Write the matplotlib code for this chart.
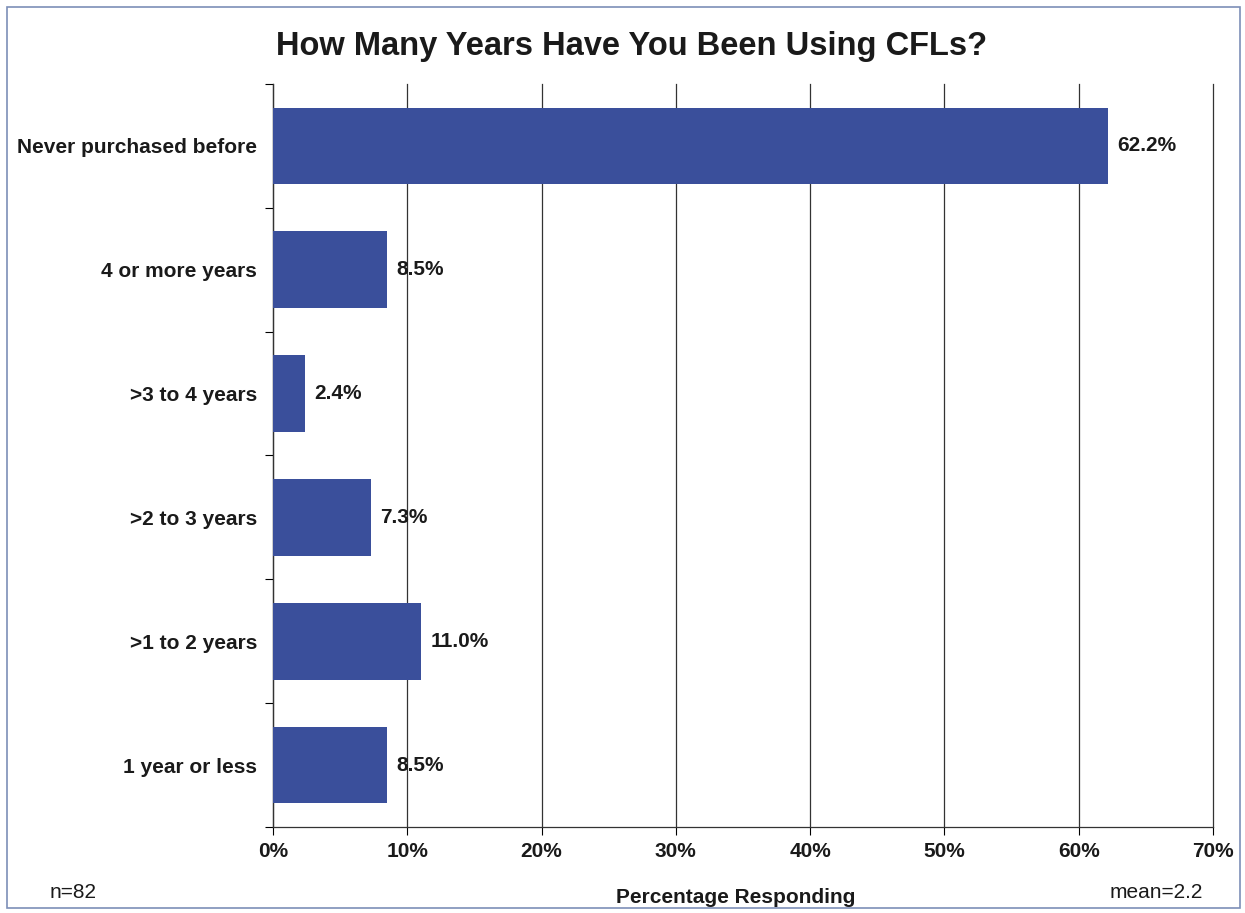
import matplotlib.pyplot as plt
import numpy as np
from matplotlib.patches import Rectangle
from matplotlib.ticker import FixedLocator

categories = [
    "Never purchased before",
    "4 or more years",
    ">3 to 4 years",
    ">2 to 3 years",
    ">1 to 2 years",
    "1 year or less",
]
values = [62.2, 8.5, 2.4, 7.3, 11.0, 8.5]
xticks = [0, 10, 20, 30, 40, 50, 60, 70]

plt.rcParams["font.family"] = ["Liberation Sans", "DejaVu Sans"]

fig = plt.figure(figsize=(12.45, 9.13), dpi=100)
ax = fig.add_axes([0.2193, 0.0942, 0.755, 0.8138])

ypos = np.arange(len(categories))
ax.barh(ypos, values, height=0.62, color="#3a4f9b", zorder=3)
ax.set_ylim(len(categories) - 0.5, -0.5)
ax.set_xlim(0, 70)

for y, v in zip(ypos, values):
    ax.text(v + 0.7, y, f"{v:.1f}%", va="center", ha="left",
            fontsize=15, fontweight="bold", color="#1a1a1a")

ax.set_yticks(ypos)
ax.set_yticklabels(categories, fontsize=15, fontweight="bold", color="#1a1a1a")
ax.tick_params(axis="y", which="major", length=0, pad=11.5)
ax.yaxis.set_minor_locator(FixedLocator(np.arange(-0.5, len(categories), 1.0)))
ax.tick_params(axis="y", which="minor", length=6, width=0.8, direction="out")

ax.set_xticks(xticks)
ax.set_xticklabels([f"{t}%" for t in xticks], fontsize=15, fontweight="bold", color="#1a1a1a")
ax.tick_params(axis="x", length=6, width=0.8, direction="out", pad=5)

ax.grid(axis="x", color="#333333", linewidth=0.9, zorder=0)
for gl in ax.get_xgridlines():
    gl.set_clip_on(False)
for s in ["top", "right"]:
    ax.spines[s].set_visible(False)
for s in ["left", "bottom"]:
    ax.spines[s].set_color("#333333")
    ax.spines[s].set_linewidth(0.9)

fig.text(0.507, 0.949, "How Many Years Have You Been Using CFLs?", ha="center", va="center",
         fontsize=23.5, fontweight="bold", color="#1a1a1a")
fig.text(0.591, 0.017, "Percentage Responding", ha="center", va="center",
         fontsize=15, fontweight="bold", color="#1a1a1a")
fig.text(0.040, 0.022, "n=82", ha="left", va="center", fontsize=15, color="#1a1a1a")
fig.text(0.966, 0.022, "mean=2.2", ha="right", va="center", fontsize=15, color="#1a1a1a")

fig.patches.append(Rectangle((0.006, 0.005), 0.99, 0.987, transform=fig.transFigure,
                             fill=False, edgecolor="#7d8fb8", linewidth=1.2))

fig.savefig("out.png", dpi=100)
